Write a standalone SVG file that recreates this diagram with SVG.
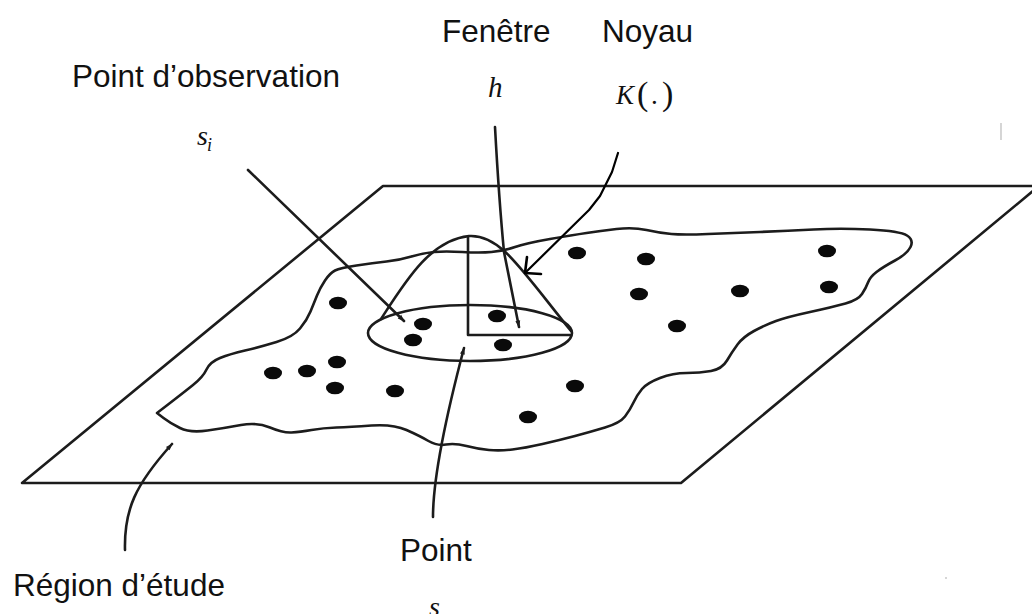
<svg xmlns="http://www.w3.org/2000/svg" width="1032" height="614" viewBox="0 0 1032 614">
  <defs>
    <style>
      .ln { fill: none; stroke: #1c1c1c; stroke-width: 2.6; stroke-linecap: round; stroke-linejoin: round; }
      .lbl { font-family: "Liberation Sans", Arial, sans-serif; font-size: 31.5px; fill: #111; }
      .math { font-family: "Liberation Serif", "Times New Roman", serif; font-style: italic; fill: #111; }
      .paren { font-family: "Liberation Serif", "Times New Roman", serif; fill: #111; }
      .dot { fill: #0a0a0a; }
    </style>
    <marker id="tip" viewBox="0 0 10 10" refX="9" refY="5" markerWidth="9" markerHeight="7" markerUnits="userSpaceOnUse" orient="auto">
      <path d="M0,1.5 L10,5 L0,8.5 z" fill="#1c1c1c"/>
    </marker>
  </defs>

  <rect width="1032" height="614" fill="#fff"/>

  <!-- study plane -->
  <g id="plane">
    <polygon class="ln" points="383,186 1039,186 681,483 22,483"/>
    <!-- faint scan marks -->
    <line x1="1001" y1="123" x2="1001" y2="140" stroke="#c4c4c4" stroke-width="1.4"/>
    <circle cx="946" cy="578" r="1" fill="#c8c8c8"/>
  </g>

  <!-- study region outline -->
  <g id="region">
    <path class="ln" d="M356.5,265.5 Q373,263 386.5,261.5 Q400,260 411.5,256.5 Q423,253 434,252 Q445,251 462.5,252 Q480,253 491.5,252 Q503,251 515,247 Q527,243 550,239 Q573,235 586.5,233 Q600,231 616.5,229 Q633,227 646.5,230 Q660,233 671.5,234 Q683,235 708,234 Q733,233 760,232 Q787,231 813.5,229.5 Q840,228 870,229.5 Q900,231 907,235.5 Q914,240 910.5,247 Q907,254 895,260.5 Q883,267 876.5,272 Q870,277 868,282.5 Q866,288 862,294 Q858,300 845.5,303.5 Q833,307 810,312 Q787,317 776,321 Q765,325 754,331 Q743,337 737.5,344.5 Q732,352 727,360.5 Q722,369 711,371 Q700,373 686.5,373 Q673,373 660,378 Q647,383 642,389 Q637,395 633.5,402.5 Q630,410 625,416.5 Q620,423 605,427.5 Q590,432 575,436 Q560,440 542.5,444 Q525,448 512.5,449.5 Q500,451 489,450 Q478,449 466.5,446 Q455,443 446,444.5 Q437,446 428.5,441 Q420,436 406.5,430 Q393,424 371.5,425.5 Q350,427 336.5,427.5 Q323,428 311.5,430 Q300,432 291.5,432.5 Q283,433 270,427.5 Q257,422 241,425 Q225,428 207.5,430.5 Q190,433 180,428 Q170,423 163.5,418 L157,413 L170,403 Q183,393 193,385 Q203,377 206.5,369.5 Q210,362 220,358 Q230,354 245,350.5 Q260,347 276.5,342 Q293,337 300,328.5 Q307,320 310.5,311.5 Q314,303 317,295.5 Q320,288 325,280.5 Q330,273 335,270.5 Q340,268 356.5,265.5 Z"/>
  </g>

  <!-- kernel bell over the window disc -->
  <g id="kernel">
    <ellipse class="ln" cx="470" cy="333" rx="102" ry="28"/>
    <path class="ln" d="M381,319 C405,282 430,240 469,236 C500,234 520,268 571,331"/>
    <path class="ln" d="M468,237 L468,335 L570,335"/>
  </g>

  <!-- observation points -->
  <g id="observations">
    <ellipse class="dot" cx="577" cy="253" rx="9" ry="6.3"/>
    <ellipse class="dot" cx="646" cy="259" rx="9" ry="6.3"/>
    <ellipse class="dot" cx="827" cy="251" rx="9" ry="6.3"/>
    <ellipse class="dot" cx="639" cy="294" rx="9" ry="6.3"/>
    <ellipse class="dot" cx="740" cy="291" rx="9" ry="6.3"/>
    <ellipse class="dot" cx="829" cy="287" rx="9" ry="6.3"/>
    <ellipse class="dot" cx="677" cy="326" rx="9" ry="6.3"/>
    <ellipse class="dot" cx="338" cy="303" rx="9" ry="6.3"/>
    <ellipse class="dot" cx="423" cy="324" rx="9" ry="6.3"/>
    <ellipse class="dot" cx="413" cy="340" rx="9" ry="6.3"/>
    <ellipse class="dot" cx="497" cy="316" rx="9" ry="6.3"/>
    <ellipse class="dot" cx="503" cy="345" rx="9" ry="6.3"/>
    <ellipse class="dot" cx="337" cy="362" rx="9" ry="6.3"/>
    <ellipse class="dot" cx="307" cy="371" rx="9" ry="6.3"/>
    <ellipse class="dot" cx="273" cy="373" rx="9" ry="6.3"/>
    <ellipse class="dot" cx="335" cy="388" rx="9" ry="6.3"/>
    <ellipse class="dot" cx="395" cy="391" rx="9" ry="6.3"/>
    <ellipse class="dot" cx="575" cy="386" rx="9" ry="6.3"/>
    <ellipse class="dot" cx="528" cy="417" rx="9" ry="6.3"/>
  </g>

  <!-- leader lines -->
  <g id="connectors">
    <path class="ln" d="M248,170 L404,321" marker-end="url(#tip)"/>
    <path class="ln" d="M495,127 Q499,200 504,252 L519,327" marker-end="url(#tip)"/>
    <path class="ln" d="M618,153 L612,172 L600,196 L589,210 L526,272" style="stroke:#000;stroke-width:2.2"/>
    <path class="ln" d="M527,257 L525,273 L541,274" style="stroke:#000;stroke-width:2.6"/>
    <path class="ln" d="M433,517 C433,480 445,420 464,348" marker-end="url(#tip)"/>
    <path class="ln" d="M125,550 C124,510 135,485 172,444" marker-end="url(#tip)"/>
  </g>

  <!-- labels -->
  <g id="label-observation">
    <text class="lbl" x="72" y="87">Point d’observation</text>
    <text class="math" x="197" y="145" font-size="28">s</text>
    <text class="math" x="207" y="151" font-size="18">i</text>
  </g>
  <g id="label-window">
    <text class="lbl" x="442" y="42">Fenêtre</text>
    <text class="math" x="488" y="97" font-size="29">h</text>
  </g>
  <g id="label-kernel">
    <text class="lbl" x="602" y="42">Noyau</text>
    <text class="math" x="616" y="104" font-size="27">K</text>
    <text class="paren" x="637" y="105" font-size="34">(</text>
    <text class="paren" x="651" y="104" font-size="27">.</text>
    <text class="paren" x="662" y="105" font-size="34">)</text>
  </g>
  <g id="label-point">
    <text class="lbl" x="400" y="561">Point</text>
    <text class="math" x="429" y="616" font-size="28">s</text>
  </g>
  <g id="label-region">
    <text class="lbl" x="13" y="596">Région d’étude</text>
  </g>
</svg>
